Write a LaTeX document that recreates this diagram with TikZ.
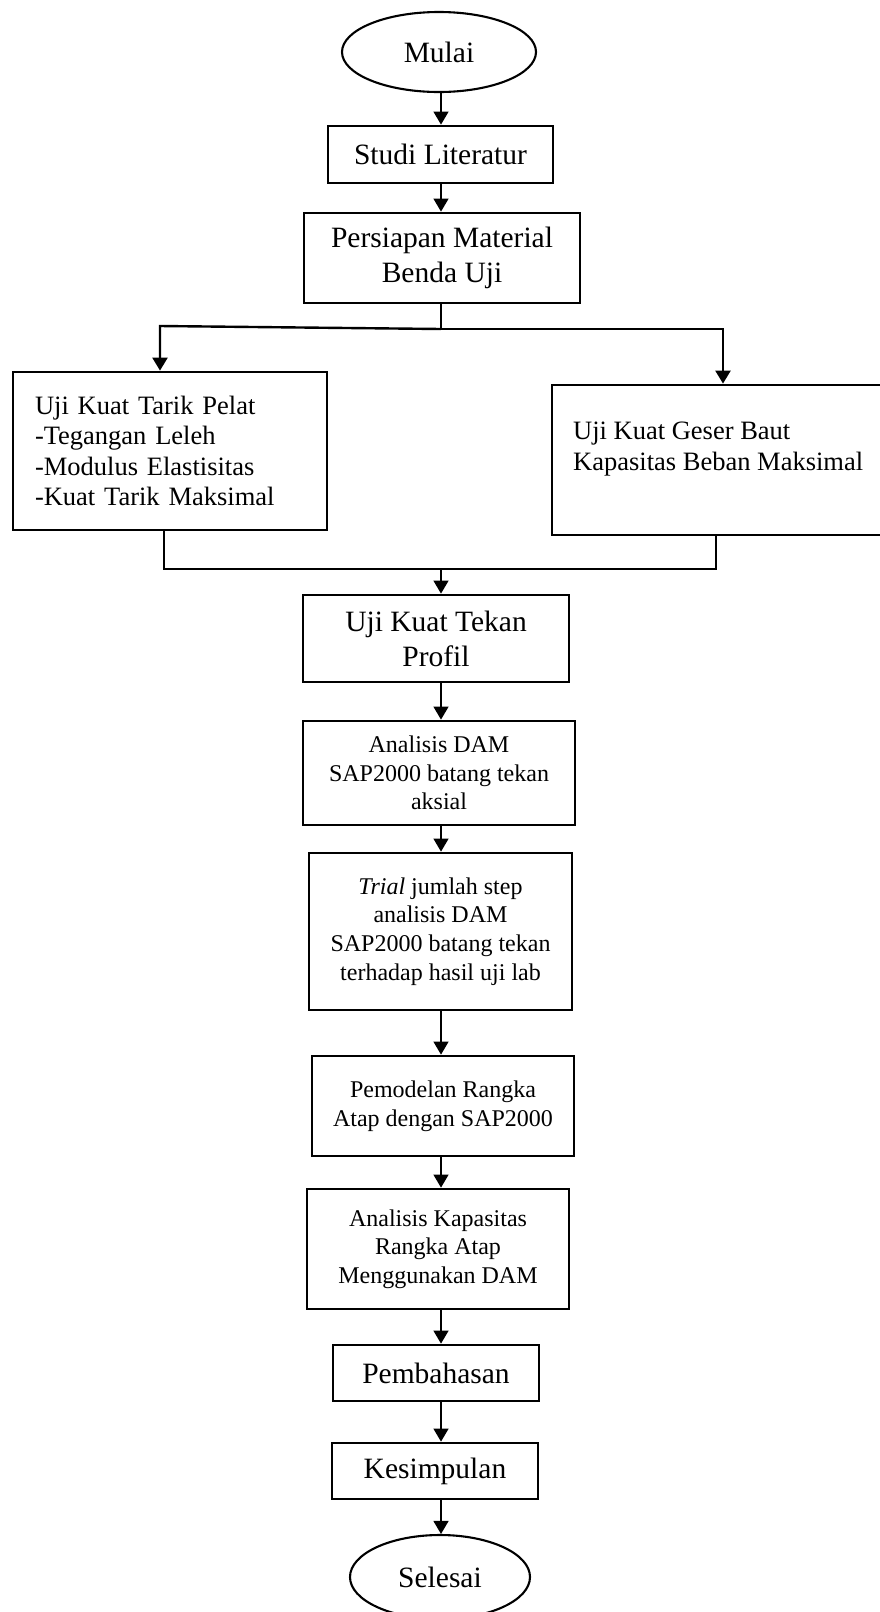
\documentclass[tikz,border=0pt]{standalone}
\usepackage{fontspec}
\setmainfont{Liberation Serif}
\usetikzlibrary{arrows.meta,shapes.geometric}
\begin{document}
\begin{tikzpicture}[x=1pt,y=-1pt,
  box/.style={draw, line width=2.8pt, rectangle, inner sep=0pt, align=center},
  big/.style={font=\fontsize{29.5}{35}\selectfont},
  mid/.style={font=\fontsize{26.5}{30.5}\selectfont},
  small/.style={font=\fontsize{24}{28.6}\selectfont},
  term/.style={draw, line width=2.1pt, ellipse, inner sep=0pt},
  arr/.style={-{Triangle[length=13pt,width=15pt]}, line width=1.3pt},
  thickarr/.style={-{Triangle[length=13pt,width=15pt]}, line width=2.4pt},
  thickline/.style={line width=2.3pt},
  thinline/.style={line width=1.3pt}
]
\useasboundingbox (0,0) rectangle (879,1612);
\coordinate (axis) at (441,0);

\node[term, big, minimum width=194pt, minimum height=80pt] (mulai) at (439,52) {Mulai};
\node[box, big, minimum width=225pt, minimum height=57pt] (studi) at (440.5,154.5) {Studi Literatur};
\node[box, big, minimum width=276pt, minimum height=90pt] (persiapan) at (442,258) {Persiapan Material\\Benda Uji};
\node[box, mid, text width=270pt, align=left, inner xsep=22pt, minimum height=158pt] (tarik) at (170,451) {Uji Kuat Tarik Pelat\\-Tegangan Leleh\\-Modulus Elastisitas\\-Kuat Tarik Maksimal};
\node[box, minimum width=332pt, minimum height=150pt] (geser) at (718,460) {};
\node[mid, align=left, anchor=west, inner sep=0pt] (gesertxt) at (573,449) {Uji Kuat Geser Baut\\Kapasitas Beban Maksimal};
\node[box, big, minimum width=266pt, minimum height=87pt] (tekan) at (436,638.5) {Uji Kuat Tekan\\Profil};
\node[box, small, minimum width=272pt, minimum height=104pt] (adam) at (439,773) {Analisis DAM\\SAP2000 batang tekan\\aksial};
\node[box, small, minimum width=263pt, minimum height=157pt] (trial) at (440.5,931.5) {\textit{Trial} jumlah step\\analisis DAM\\SAP2000 batang tekan\\terhadap hasil uji lab};
\node[box, small, minimum width=262pt, minimum height=100pt] (pemodelan) at (443,1106) {Pemodelan Rangka\\Atap dengan SAP2000};
\node[box, small, minimum width=262pt, minimum height=120pt] (kapasitas) at (438,1249) {Analisis Kapasitas\\Rangka Atap\\Menggunakan DAM};
\node[box, big, minimum width=206pt, minimum height=56pt] (pembahasan) at (436,1373) {Pembahasan};
\node[box, big, minimum width=206pt, minimum height=56pt] (kesimpulan) at (435,1471) {Kesimpulan};
\node[term, big, minimum width=180pt, minimum height=84pt] (selesai) at (440,1577) {Selesai};

\draw[arr] (mulai.south -| axis) -- (studi.north -| axis);
\draw[arr] (studi.south -| axis) -- (persiapan.north -| axis);

\coordinate (bl) at (160,326);
\coordinate (br) at (723,329);
\draw[thinline] (persiapan.south -| axis) -- (axis |- br);
\draw[thickarr] (axis |- br) -- (bl) -- (bl |- tarik.north);
\draw[thickarr] (axis |- br) -- (br) -- (br |- geser.north);

\coordinate (ml) at (164,569);
\coordinate (mr) at (716,569);
\draw[thickline] (ml |- tarik.south) -- (ml) -- (mr) -- (mr |- geser.south);
\draw[arr] (axis |- ml) -- (tekan.north -| axis);

\draw[arr] (tekan.south -| axis) -- (adam.north -| axis);
\draw[arr] (adam.south -| axis) -- (trial.north -| axis);
\draw[arr] (trial.south -| axis) -- (pemodelan.north -| axis);
\draw[arr] (pemodelan.south -| axis) -- (kapasitas.north -| axis);
\draw[arr] (kapasitas.south -| axis) -- (pembahasan.north -| axis);
\draw[arr] (pembahasan.south -| axis) -- (kesimpulan.north -| axis);
\draw[arr] (kesimpulan.south -| axis) -- (selesai.north -| axis);
\end{tikzpicture}
\end{document}
